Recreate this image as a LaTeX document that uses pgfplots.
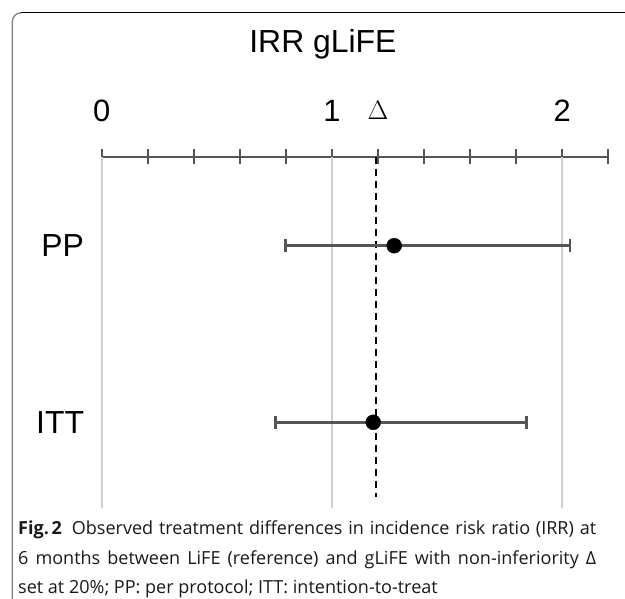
\documentclass[border=0pt]{standalone}
\usepackage{fontspec}
\setmainfont{Liberation Sans}
\newfontfamily\capfont{Open Sans}
\usepackage{pgfplots}
\pgfplotsset{compat=1.18}
\usepackage{pgfplotstable}

\pgfplotstableread{
y est lo hi
2 1.270 0.797 2.033
1 1.179 0.754 1.845
}\irr

\definecolor{axgray}{HTML}{555555}
\definecolor{gridgray}{HTML}{D0D0D0}

\begin{document}
\begin{tikzpicture}[x=1bp,y=1bp]
\useasboundingbox (0,0) rectangle (625,599);
% frame
\draw[black!50, line width=1.3bp] (12.3,0) -- (12.3,577.3) arc[start angle=180,end angle=90,radius=9];
\draw[black, line width=1.3bp] (21.3,586.3) -- (625,586.3);
% title
\node[anchor=base, inner sep=0pt, font=\fontsize{32}{32}\selectfont] at (322.9,546) {IRR gLiFE};

\begin{axis}[
  at={(101.7bp,442.3bp)}, anchor=north west,
  x=230.3bp, y=176.6bp,
  xmin=0, xmax=2.2, ymin=0.512, ymax=2.504,
  axis x line=top, axis y line=left,
  x axis line style={-, line width=2.2bp, color=axgray},
  y axis line style={draw=none},
  xtick={0,0.2,0.4,0.6,0.8,1,1.2,1.4,1.6,1.8,2,2.2},
  xticklabels={0,,,,,1,\raisebox{2.5bp}{\scalebox{1.08}{$\Delta$}},,,,2,},
  tick align=center,
  major tick length=15bp,
  xtick style={line width=2.2bp, color=axgray},
  ytick style={draw=none},
  ytick={1,2}, yticklabels={ITT,PP},
  xticklabel style={anchor=south, inner sep=0pt, font=\fontsize{31}{31}\selectfont, yshift=27bp},
  yticklabel style={anchor=east, inner sep=0pt, font=\fontsize{32}{32}\selectfont, xshift=-10bp},
  clip=false,
]
\draw[gridgray, line width=1.8bp] (axis cs:0,0.512) -- (axis cs:0,2.504);
\draw[gridgray, line width=1.8bp] (axis cs:1,0.512) -- (axis cs:1,2.504);
\draw[gridgray, line width=1.8bp] (axis cs:2,0.512) -- (axis cs:2,2.504);
\draw[black, line width=1.6bp, dash pattern=on 7bp off 5bp] (axis cs:1.192,2.504) -- (axis cs:1.192,0.577);
% confidence intervals
\addplot[axgray, line width=2.8bp, mark=|, mark size=6.5bp, mark options={solid, line width=2.8bp, axgray}]
  coordinates {(0.797,2) (2.033,2)};
\addplot[axgray, line width=2.8bp, mark=|, mark size=6.5bp, mark options={solid, line width=2.8bp, axgray}]
  coordinates {(0.754,1) (1.845,1)};
% point estimates
\addplot[only marks, mark=*, mark size=7.5bp, black] table[x=est, y=y] {\irr};
\end{axis}

% caption (justified lines 1-2)
\begin{scope}[every node/.style={anchor=base west, inner sep=0pt, text=black!90, font=\capfont\fontsize{18.1}{18.1}\selectfont}]
\node at (18,64) {\makebox[578bp][s]{\hbox{\textbf{Fig.\kern0.15em 2}\kern0.55em}Observed treatment differences in incidence risk ratio (IRR) at}};
\node at (18,34.5) {\makebox[578bp][s]{6 months between LiFE (reference) and gLiFE with non-inferiority Δ}};
\node at (18,5) {set at 20\%; PP: per protocol; ITT: intention-to-treat};
\end{scope}
\end{tikzpicture}
\end{document}
